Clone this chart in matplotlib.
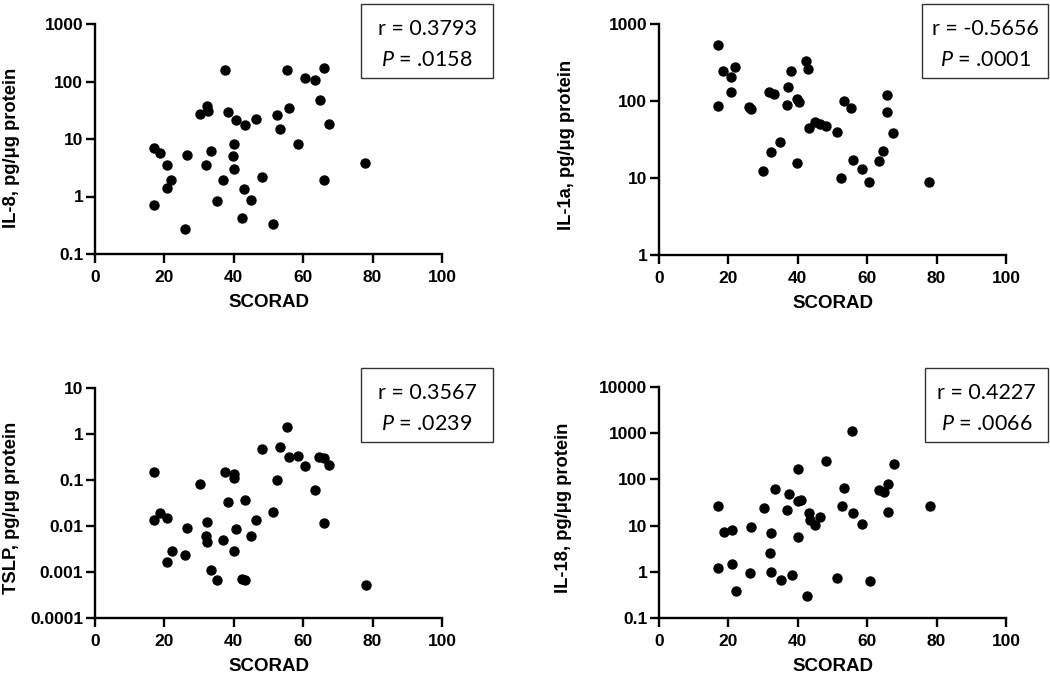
import numpy as np
import matplotlib
matplotlib.use("Agg")
import matplotlib.pyplot as plt
from matplotlib.patches import Rectangle
from matplotlib.ticker import FixedLocator, FixedFormatter, NullLocator

plt.rcParams['font.family'] = ['Liberation Sans', 'DejaVu Sans']
plt.rcParams['mathtext.fontset'] = 'custom'
plt.rcParams['mathtext.it'] = 'Lato:italic'
plt.rcParams['mathtext.rm'] = 'Lato'

# IL-8
il8_scorad = [37.4, 55.4, 66.0, 60.5, 63.5, 64.7, 32.2, 30.3, 32.5, 38.2,
              40.5, 43.3, 46.3, 52.5, 55.9, 53.3, 67.4, 58.6, 77.9, 17.0,
              18.6, 26.5, 33.3, 40.1, 39.8, 20.7, 32.0, 40.0, 22.0, 36.9,
              48.0, 20.7, 43.0, 65.9, 17.1, 35.1, 45.0, 42.5, 51.2, 25.9]
il8_vals = [157, 160, 170, 115, 105, 48, 37.5, 27, 30.7, 29.8,
            21.7, 17.3, 22.5, 26.5, 35, 15.2, 18.5, 8.1, 3.9, 7.0,
            5.6, 5.3, 6.1, 8.2, 5.1, 3.5, 3.5, 3.05, 1.9, 1.9,
            2.2, 1.4, 1.37, 1.9, 0.71, 0.85, 0.86, 0.43, 0.33, 0.275]

# IL-1a
il1a_scorad = [16.9, 18.5, 22.0, 20.7, 20.7, 16.9, 25.8, 26.5, 31.8, 33.1,
               37.3, 38.0, 39.9, 40.4, 36.9, 42.4, 43.0, 43.2, 44.9, 46.4,
               48.0, 51.2, 53.2, 55.4, 65.8, 65.8, 67.3, 64.6, 63.3, 55.8,
               58.4, 60.4, 52.4, 77.8, 35.0, 32.3, 30.1, 39.8]
il1a_vals = [533, 245, 273, 207, 129, 87, 84, 78, 131, 122,
             153, 245, 106, 97, 88, 333, 261, 44, 54, 50,
             47, 40, 101, 81, 121, 73, 38, 22.4, 16.6, 17.1,
             12.9, 9.0, 9.9, 8.95, 29.4, 21.8, 12.2, 15.8]

# TSLP
tslp_scorad = [17.0, 17.1, 18.6, 20.8, 22.2, 20.8, 26.5, 25.9, 30.3, 32.4,
               32.0, 32.2, 33.3, 35.1, 36.9, 38.2, 37.4, 40.0, 40.1, 40.5,
               40.0, 43.3, 42.5, 43.2, 45.0, 46.3, 48.0, 51.3, 52.5, 53.3,
               55.4, 55.9, 58.6, 60.6, 63.5, 64.6, 66.0, 67.5, 66.0, 78.0]
tslp_vals = [0.147, 0.0133, 0.0188, 0.0151, 0.0028, 0.00165, 0.0092, 0.0024, 0.083, 0.0122,
             0.0061, 0.0044, 0.0011, 0.00068, 0.0049, 0.0327, 0.147, 0.137, 0.109, 0.0086,
             0.0028, 0.036, 0.0007, 0.00066, 0.006, 0.0133, 0.47, 0.020, 0.098, 0.52,
             1.45, 0.32, 0.34, 0.20, 0.060, 0.31, 0.30, 0.21, 0.0114, 0.00051]

# IL-18
il18_scorad = [17.1, 18.7, 21.1, 17.1, 21.1, 22.2, 26.2, 26.6, 30.4, 33.4,
               32.4, 32.1, 32.3, 35.2, 38.3, 42.6, 37.5, 37.0, 40.0, 40.1,
               40.8, 40.0, 43.2, 43.4, 45.1, 46.4, 48.2, 51.4, 52.7, 53.4,
               55.5, 56.0, 58.6, 60.7, 63.5, 64.9, 66.1, 66.1, 67.6, 78.1]
il18_vals = [26.4, 7.4, 8.1, 1.18, 1.51, 0.376, 0.95, 9.5, 23.9, 62,
             6.9, 2.6, 0.97, 0.66, 0.86, 0.30, 48.6, 21.9, 169, 34.3,
             35, 5.7, 18.9, 13.1, 10.2, 15.7, 251, 0.73, 26.4, 66.5,
             1135, 19.2, 10.9, 0.63, 58, 53, 80, 19.9, 217, 26.4]

panels = [
    dict(x=il8_scorad, y=il8_vals, ylabel='IL-8, pg/μg protein',
         yticks=[0.1, 1, 10, 100, 1000], ylabs=['0.1', '1', '10', '100', '1000'],
         r='r = 0.3793', p='.0158'),
    dict(x=il1a_scorad, y=il1a_vals, ylabel='IL-1a, pg/μg protein',
         yticks=[1, 10, 100, 1000], ylabs=['1', '10', '100', '1000'],
         r='r = -0.5656', p='.0001'),
    dict(x=tslp_scorad, y=tslp_vals, ylabel='TSLP, pg/μg protein',
         yticks=[0.0001, 0.001, 0.01, 0.1, 1, 10],
         ylabs=['0.0001', '0.001', '0.01', '0.1', '1', '10'],
         r='r = 0.3567', p='.0239'),
    dict(x=il18_scorad, y=il18_vals, ylabel='IL-18, pg/μg protein',
         yticks=[0.1, 1, 10, 100, 1000, 10000],
         ylabs=['0.1', '1', '10', '100', '1000', '10000'],
         r='r = 0.4227', p='.0066'),
]

W, H = 1050, 677
fig = plt.figure(figsize=(W / 100, H / 100), dpi=100)

# axes placement in pixels: left, right, top, bottom
rects = [(95, 442, 24, 254), (659, 1006, 24, 255),
         (95, 442, 388, 618), (659, 1006, 387, 618)]
label_x = [-0.216, -0.242, -0.216, -0.251]
label_y = [0.463, 0.477, 0.478, 0.477]
boxes = [(361, 493, 4, 78), (922, 1048, 4, 78),
         (361, 493, 368, 442), (925, 1048, 368, 442)]

for i, pnl in enumerate(panels):
    l, r, t, b = rects[i]
    ax = fig.add_axes([l / W, 1 - b / H, (r - l) / W, (b - t) / H])
    ax.scatter(pnl['x'], pnl['y'], s=42, color='black', zorder=3, clip_on=False)
    ax.set_yscale('log')
    ax.set_ylim(pnl['yticks'][0], pnl['yticks'][-1])
    ax.set_xlim(0, 100)
    ax.yaxis.set_major_locator(FixedLocator(pnl['yticks']))
    ax.yaxis.set_major_formatter(FixedFormatter(pnl['ylabs']))
    ax.yaxis.set_minor_locator(NullLocator())
    ax.set_xticks([0, 20, 40, 60, 80, 100])
    for s in ['top', 'right']:
        ax.spines[s].set_visible(False)
    for s in ['left', 'bottom']:
        ax.spines[s].set_linewidth(1.7)
    ax.tick_params(width=1.7, length=6.5, labelsize=12.5, pad=2)
    ax.tick_params(axis='x', pad=5)
    for lab in ax.get_xticklabels() + ax.get_yticklabels():
        lab.set_fontweight('bold')
    ax.set_xlabel('SCORAD', fontsize=13.5, fontweight='bold', labelpad=6.5)
    ax.set_ylabel(pnl['ylabel'], fontsize=13.2, fontweight='bold')
    ax.yaxis.set_label_coords(label_x[i], label_y[i])

    bl, br, bt, bb = boxes[i]
    fig.patches.append(Rectangle((bl / W, 1 - bb / H), (br - bl) / W, (bb - bt) / H,
                                 transform=fig.transFigure, fill=False,
                                 edgecolor='#333333', linewidth=1.0))
    cx = (bl + br) / 2 / W
    fig.text(cx, 1 - (bt + 25) / H, pnl['r'], ha='center', va='center',
             fontsize=15.5, family='Lato')
    fig.text(cx, 1 - (bt + 56) / H, r'$\mathit{P}$ = ' + pnl['p'], ha='center',
             va='center', fontsize=15.5, family='Lato')

fig.savefig('out.png', dpi=100)
